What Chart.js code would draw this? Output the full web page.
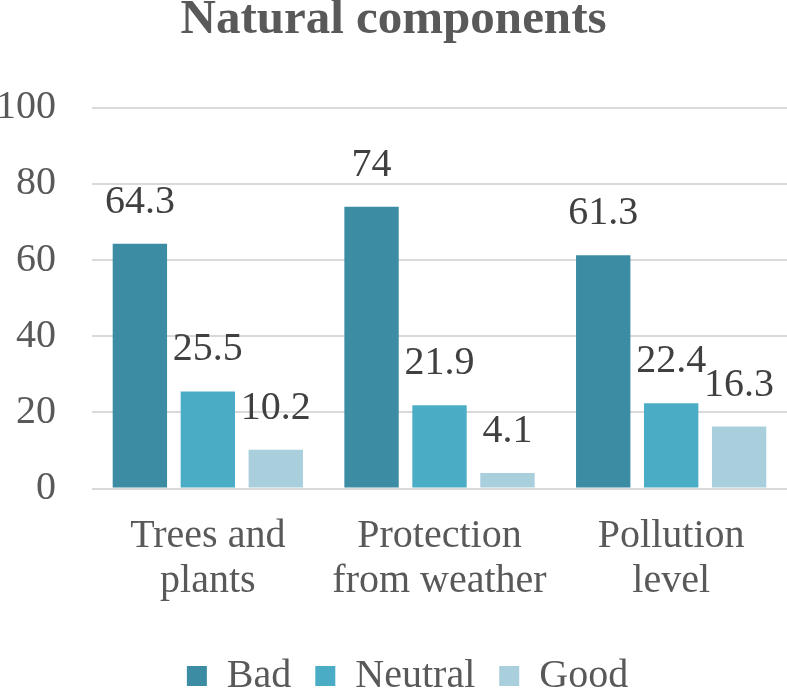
<!DOCTYPE html>
<html>
<head>
<meta charset="utf-8">
<script src="https://cdn.jsdelivr.net/npm/chart.js@4/dist/chart.umd.min.js"></script>
<style>
  html, body { margin: 0; padding: 0; background: #fff; }
  #wrap { width: 787px; height: 690px; }
</style>
</head>
<body>
<div id="wrap"><canvas id="natural"></canvas></div>
<script>
// chart values
var categories = [['Trees and', 'plants'], ['Protection', 'from weather'], ['Pollution', 'level']];
var seriesNames = ['Bad', 'Neutral', 'Good'];
var badValues = [64.3, 74, 61.3];
var neutralValues = [25.5, 21.9, 22.4];
var goodValues = [10.2, 4.1, 16.3];
var yTicks = [0, 20, 40, 60, 80, 100];

var serif = "'Liberation Serif', 'Times New Roman', serif";

// draws the value above each bar, like the excel labels
var barLabels = {
  id: 'barLabels',
  afterDatasetsDraw: function(chart) {
    var ctx = chart.ctx;
    ctx.save();
    ctx.font = '40px ' + serif;
    ctx.fillStyle = '#404040';
    ctx.textAlign = 'center';
    ctx.textBaseline = 'alphabetic';
    chart.data.datasets.forEach(function(ds, i) {
      chart.getDatasetMeta(i).data.forEach(function(bar, j) {
        ctx.fillText(String(ds.data[j]), bar.x, bar.y - 31);
      });
    });
    ctx.restore();
  }
};

// legend in the original sits a bit right of centre
var legendShift = {
  id: 'legendShift',
  afterLayout: function(chart) {
    if (chart.legend) {
      chart.legend.left += 14;
      chart.legend.right += 14;
    }
  }
};

var ctx = document.getElementById('natural').getContext('2d');
var myChart = new Chart(ctx, {
  type: 'bar',
  data: {
    labels: categories,
    datasets: [
      { label: seriesNames[0], data: badValues, backgroundColor: '#3c8ca3' },
      { label: seriesNames[1], data: neutralValues, backgroundColor: '#4bacc6' },
      { label: seriesNames[2], data: goodValues, backgroundColor: '#a9cfdd' }
    ]
  },
  plugins: [barLabels, legendShift],
  options: {
    responsive: true,
    maintainAspectRatio: false,
    animation: false,
    datasets: {
      bar: { categoryPercentage: 0.88, barPercentage: 0.8 }
    },
    layout: { padding: { left: 0, right: 0, top: 0, bottom: -16 } },
    plugins: {
      title: {
        display: true,
        text: 'Natural components',
        color: '#595959',
        font: { family: serif, size: 49, weight: 'bold', lineHeight: 1.2 },
        padding: { top: -9, bottom: 58 }
      },
      legend: {
        position: 'bottom',
        labels: {
          color: '#595959',
          font: { family: serif, size: 40 },
          boxWidth: 20,
          boxHeight: 20,
          padding: 24
        }
      },
      tooltip: { enabled: false }
    },
    scales: {
      x: {
        grid: { display: false },
        border: { display: false },
        afterFit: function(scale) { scale.height = scale.height + 11; },
        ticks: {
          color: '#595959',
          font: { family: serif, size: 40, lineHeight: 1.13 },
          padding: 17,
          maxRotation: 0,
          autoSkip: false
        }
      },
      y: {
        min: 0,
        max: 100,
        afterFit: function(scale) { scale.width = 92; },
        afterBuildTicks: function(scale) {
          scale.ticks = yTicks.map(function(v) { return { value: v }; });
        },
        grid: { color: '#d9d9d9', lineWidth: 2, drawTicks: false },
        border: { display: false },
        ticks: {
          color: '#595959',
          font: { family: serif, size: 40 },
          padding: 36
        }
      }
    }
  }
});
</script>
</body>
</html>
